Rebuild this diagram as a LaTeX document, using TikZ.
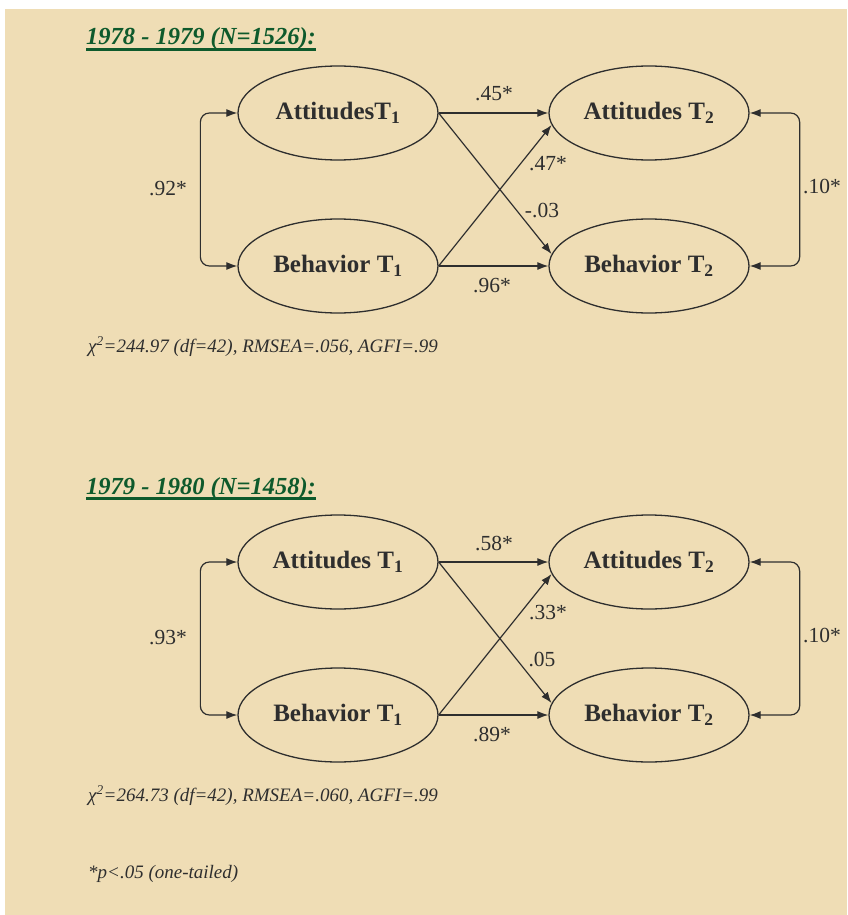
\documentclass[tikz,border=0pt]{standalone}
\usepackage{fontspec}
\setmainfont{Liberation Serif}
\usetikzlibrary{arrows.meta,shapes.geometric}
\definecolor{parchment}{HTML}{EFDDB5}
\definecolor{titlegreen}{HTML}{0E5A2C}
\definecolor{inkgray}{HTML}{2E2E2E}

\begin{document}
\begin{tikzpicture}[x=1pt,y=-1pt,
  latent/.style={ellipse,draw=inkgray,line width=1.3pt,minimum width=200pt,minimum height=94pt,inner sep=0pt,font=\fontsize{25}{25}\selectfont\bfseries,text=inkgray},
  path/.style={-{Latex[length=11pt,width=8pt]},draw=inkgray,line width=1.2pt},
  cov/.style={{Latex[length=11pt,width=8pt]}-{Latex[length=11pt,width=8pt]},draw=inkgray,line width=1.2pt,rounded corners=9pt},
  coef/.style={anchor=base,font=\fontsize{21.5}{21.5}\selectfont,text=inkgray},
  heading/.style={anchor=base west,inner sep=0pt,font=\fontsize{24.5}{24.5}\selectfont\bfseries\itshape,text=titlegreen},
  rule/.style={draw=titlegreen,line width=2.2pt},
  fitline/.style={anchor=base west,inner sep=0pt,font=\fontsize{19}{19}\selectfont\itshape,text=inkgray}]
\fill[white] (0,0) rectangle (847,915);
\fill[parchment] (5,9) rectangle (847,915);
% 1978 - 1979
\node[heading] (head1) at (86,45) {1978 - 1979 (N=1526):};
\draw[rule] ([yshift=-4.5pt]head1.base west) -- ([yshift=-4.5pt]head1.base east);
\node[latent] (att1) at (338,113) {AttitudesT\textsubscript{1}};
\node[latent] (beh1) at (338,266) {Behavior T\textsubscript{1}};
\node[latent] (att2) at (649,113) {Attitudes T\textsubscript{2}};
\node[latent] (beh2) at (649,266) {Behavior T\textsubscript{2}};
\draw[path] (att1.east) -- (att2.west);
\draw[path] (beh1.east) -- (beh2.west);
\draw[path] (att1.east) -- (beh2.173);
\draw[path] (beh1.east) -- (att2.187);
\draw[cov] (att1.west) -- ++(-37,0) |- (beh1.west);
\draw[cov] (att2.east) -- ++(50,0) |- (beh2.east);
\node[coef] (p1aa) at (494,101) {.45*};
\node[coef] (p1bb) at (492,292) {.96*};
\node[coef] (p1ba) at (548,170) {.47*};
\node[coef] (p1ab) at (542,217) {-.03};
\node[coef] (p1c1) at (168,195) {.92*};
\node[coef] (p1c2) at (822,193) {.10*};
\node[fitline] (fit1) at (88,352) {χ\textsuperscript{2}=244.97 (df=42), RMSEA=.056, AGFI=.99};
% 1979 - 1980
\node[heading] (head2) at (86,494) {1979 - 1980 (N=1458):};
\draw[rule] ([yshift=-4.5pt]head2.base west) -- ([yshift=-4.5pt]head2.base east);
\node[latent] (att3) at (338,562) {Attitudes T\textsubscript{1}};
\node[latent] (beh3) at (338,715) {Behavior T\textsubscript{1}};
\node[latent] (att4) at (649,562) {Attitudes T\textsubscript{2}};
\node[latent] (beh4) at (649,715) {Behavior T\textsubscript{2}};
\draw[path] (att3.east) -- (att4.west);
\draw[path] (beh3.east) -- (beh4.west);
\draw[path] (att3.east) -- (beh4.173);
\draw[path] (beh3.east) -- (att4.187);
\draw[cov] (att3.west) -- ++(-37,0) |- (beh3.west);
\draw[cov] (att4.east) -- ++(50,0) |- (beh4.east);
\node[coef] (p2aa) at (494,550) {.58*};
\node[coef] (p2bb) at (492,741) {.89*};
\node[coef] (p2ba) at (548,619) {.33*};
\node[coef] (p2ab) at (542,666) {.05};
\node[coef] (p2c1) at (168,644) {.93*};
\node[coef] (p2c2) at (822,642) {.10*};
\node[fitline] (fit2) at (88,801) {χ\textsuperscript{2}=264.73 (df=42), RMSEA=.060, AGFI=.99};
\node[fitline] (note) at (88,878) {*p<.05 (one-tailed)};
\end{tikzpicture}
\end{document}
